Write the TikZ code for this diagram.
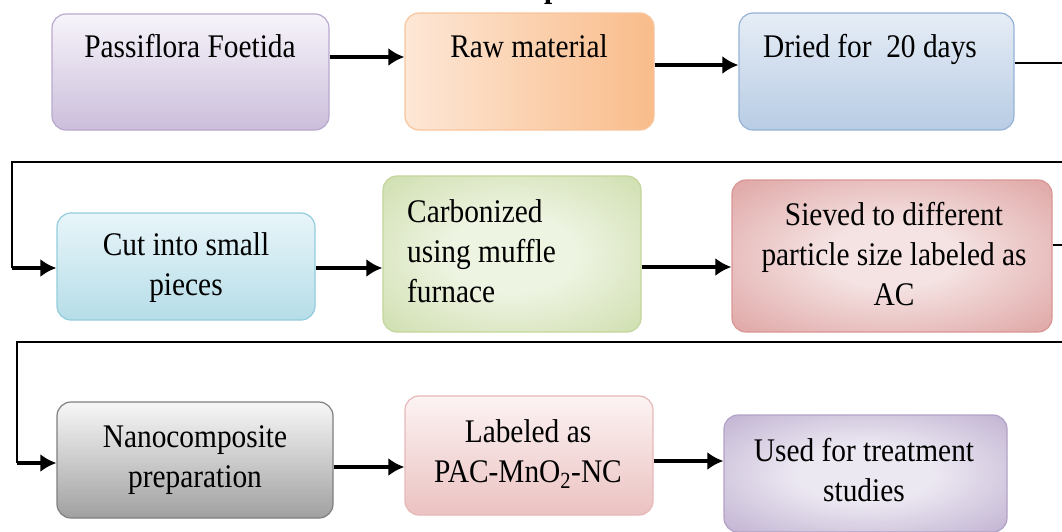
\documentclass[tikz,border=0pt]{standalone}
\usepackage{fontspec}
\setmainfont{Liberation Serif}[FakeStretch=0.89]
\usetikzlibrary{arrows.meta,calc}

% fills and borders of the process boxes
\definecolor{aTop}{HTML}{F7F4FA}\definecolor{aBot}{HTML}{CBBEDB}\definecolor{aLine}{HTML}{B9A9CF}
\definecolor{bLeft}{HTML}{FDE7D6}\definecolor{bRight}{HTML}{F9BC8A}\definecolor{bLine}{HTML}{F9C59C}
\definecolor{cTop}{HTML}{E6EDF6}\definecolor{cBot}{HTML}{B8CCE4}\definecolor{cLine}{HTML}{95B3D7}
\definecolor{dTop}{HTML}{E8F5F9}\definecolor{dBot}{HTML}{B6DDE8}\definecolor{dLine}{HTML}{93CDDD}
\definecolor{eIn}{HTML}{EEF4E2}\definecolor{eOut}{HTML}{C3D69B}\definecolor{eLine}{HTML}{C3D69B}
\definecolor{fIn}{HTML}{F5E3E3}\definecolor{fOut}{HTML}{D68F8D}\definecolor{fLine}{HTML}{D99694}
\definecolor{gTop}{HTML}{F7F7F7}\definecolor{gBot}{HTML}{A0A0A0}\definecolor{gLine}{HTML}{7F7F7F}
\definecolor{hTop}{HTML}{FCF3F3}\definecolor{hBot}{HTML}{EBC2C1}\definecolor{hLine}{HTML}{E6B9B8}
\definecolor{iIn}{HTML}{ECE8F2}\definecolor{iOut}{HTML}{B09EC5}\definecolor{iLine}{HTML}{B3A2C7}

\pgfdeclareradialshading{radE}{\pgfpoint{0bp}{0bp}}{color(0bp)=(eIn); color(12bp)=(eIn); color(45bp)=(eOut); color(75bp)=(eOut)}
\pgfdeclareradialshading{radF}{\pgfpoint{0bp}{0bp}}{color(0bp)=(fIn); color(10bp)=(fIn); color(45bp)=(fOut); color(75bp)=(fOut)}
\pgfdeclareradialshading{radI}{\pgfpoint{0bp}{0bp}}{color(0bp)=(iIn); color(12bp)=(iIn); color(45bp)=(iOut); color(75bp)=(iOut)}

\tikzset{
  box/.style={rounded corners=14pt, line width=1.2pt, inner sep=0pt},
  txt/.style={font=\fontsize{33}{40}\selectfont, inner sep=0pt, align=center, text=black},
  flow/.style={line width=4.5pt, -{Latex[length=16pt,width=18pt]}},
  link/.style={line width=2.5pt},
}

\begin{document}
\begin{tikzpicture}[x=1pt,y=-1pt]
\useasboundingbox (0,0) rectangle (1062,531);
\fill[white] (0,0) rectangle (1062,531);
\clip (0,0) rectangle (1062,531);

% heading, mostly outside the frame
\node[txt, anchor=base west, font=\fontsize{33}{40}\selectfont\bfseries] (head) at (544,-3) {p};

% first row
\node[box, draw=aLine, top color=aTop, bottom color=aBot, minimum width=277pt, minimum height=116pt] (A) at (190.5,72) {};
\node[box, draw=bLine, left color=bLeft, right color=bRight, minimum width=249pt, minimum height=117pt] (B) at (529.5,71.5) {};
\node[box, draw=cLine, top color=cTop, bottom color=cBot, minimum width=275pt, minimum height=117pt] (C) at (876.5,71.5) {};
\node[txt, anchor=base] (tA) at (190,57) {Passiflora Foetida};
\node[txt, anchor=base] (tB) at (529,57) {Raw material};
\node[txt, anchor=base] (tC) at (870,57) {Dried for\ \ 20 days};

% second row (the base anchor of a multi-line label is its last line)
\node[box, draw=dLine, top color=dTop, bottom color=dBot, minimum width=258pt, minimum height=107pt] (D) at (186,266.5) {};
\node[box, draw=eLine, shading=radE, minimum width=258pt, minimum height=156pt] (E) at (512,254) {};
\node[box, draw=fLine, shading=radF, minimum width=320pt, minimum height=152pt] (F) at (892,256) {};
\node[txt, anchor=base] (tD) at (186,295) {Cut into small\\pieces};
\node[txt, anchor=base west, align=left] (tE) at (407,302) {Carbonized\\using muffle\\furnace};
\node[txt, anchor=base] (tF) at (894,305) {Sieved to different\\particle size labeled as\\AC};

% third row
\node[box, draw=gLine, top color=gTop, bottom color=gBot, minimum width=276pt, minimum height=116pt] (G) at (195,460) {};
\node[box, draw=hLine, top color=hTop, bottom color=hBot, minimum width=248pt, minimum height=119pt] (H) at (529,455.5) {};
\node[box, draw=iLine, shading=radI, minimum width=283pt, minimum height=117pt] (I) at (865.5,473.5) {};
\node[txt, anchor=base] (tG) at (195,487) {Nanocomposite\\preparation};
\node[txt, anchor=base] (tH) at (528,482) {Labeled as\\PAC-MnO\textsubscript{2}-NC};
\node[txt, anchor=base] (tI) at (864,501) {Used for treatment\\studies};

% connectors, first row
\draw[flow] (A.east |- 0,57) -- (B.west |- 0,57);
\draw[flow] (B.east |- 0,65) -- (C.west |- 0,65);
\coordinate (r1) at (1075,63);
\draw[link] (C.east |- r1) -- (r1);

% return to the second row
\coordinate (s1a) at (1075,162);
\coordinate (s1b) at (12,162);
\coordinate (s1c) at (12,268);
\draw[link] (s1a) -- (s1b) -- (s1c);
\draw[flow] (s1c) -- (D.west |- s1c);

% connectors, second row
\draw[flow] (D.east |- 0,268) -- (E.west |- 0,268);
\draw[flow] (E.east |- 0,267) -- (F.west |- 0,267);
\coordinate (r2) at (1075,245);
\draw[link] (F.east |- r2) -- (r2);

% return to the third row
\coordinate (s2a) at (1075,342);
\coordinate (s2b) at (17,342);
\coordinate (s2c) at (17,463);
\draw[link] (s2a) -- (s2b) -- (s2c);
\draw[flow] (s2c) -- (G.west |- s2c);

% connectors, third row
\draw[flow] (G.east |- 0,467) -- (H.west |- 0,467);
\draw[flow] (H.east |- 0,461) -- (I.west |- 0,461);
\end{tikzpicture}
\end{document}
